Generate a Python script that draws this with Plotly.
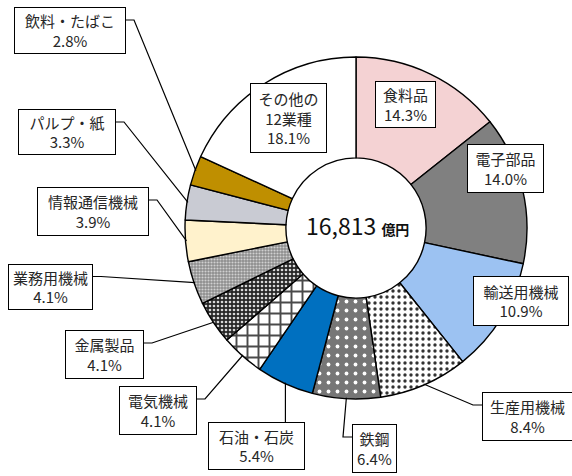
import math
import plotly.graph_objects as go

# Shares of shipment value by industry (%), clockwise from 12 o'clock
categories = ["食料品", "電子部品", "輸送用機械", "生産用機械", "鉄鋼", "石油・石炭",
              "電気機械", "金属製品", "業務用機械", "情報通信機械", "パルプ・紙",
              "飲料・たばこ", "その他の12業種"]
shares = [14.3, 14.0, 10.9, 8.4, 6.4, 5.4, 4.1, 4.1, 4.1, 3.9, 3.3, 2.8, 18.1]
box_labels = ["食料品", "電子部品", "輸送用機械", "生産用機械", "鉄鋼", "石油・石炭",
              "電気機械", "金属製品", "業務用機械", "情報通信機械", "パルプ・紙",
              "飲料・たばこ", "その他の<br>12業種"]
total_text = "16,813"
total_unit = "億円"

W, H = 572, 476
CX, CY, R = 356, 228, 171  # pie centre and radius in pixels

fill = ["#F4D2D3", "#808080", "#9CC2F2", "#FFFFFF", "#767676", "#0070C0",
        "#FFFFFF", "#262626", "#8E8E8E", "#FFF2CC", "#C9CBD3", "#BF8F00", "#FFFFFF"]
pat_shape = ["", "", "", ".", ".", "", "+", ".", ".", "", "", "", ""]
pat_fg = ["#000", "#000", "#000", "#333333", "#FFFFFF", "#000", "#4A4A4A",
          "#D8D8D8", "#D0D0D0", "#000", "#000", "#000", "#000"]
pat_size = [8, 8, 8, 6, 9, 8, 11, 4, 3, 8, 8, 8, 8]
pat_solid = [0.3, 0.3, 0.3, 0.25, 0.14, 0.3, 0.32, 0.35, 0.4, 0.3, 0.3, 0.3, 0.3]

# label box layout: centre (px), size (px), font size, leader style
boxes = {
    "食料品": ((405.5, 104.5), (61, 47), 15, None),
    "電子部品": ((505.5, 168.5), (77, 49), 15, None),
    "輸送用機械": ((521, 301), (96, 50), 15, None),
    "生産用機械": ((527.5, 416.5), (91, 49), 15, "left"),
    "鉄鋼": ((374.5, 448.5), (45, 49), 15, "left"),
    "石油・石炭": ((256.5, 446), (97, 48), 15, "up"),
    "電気機械": ((158, 410.5), (78, 49), 15, "right"),
    "金属製品": ((104.5, 354.5), (79, 49), 15, "right"),
    "業務用機械": ((50.5, 286.5), (85, 46), 15, "right"),
    "情報通信機械": ((93, 211.5), (112, 49), 15, "right"),
    "パルプ・紙": ((67, 132), (98, 46), 15, "right"),
    "飲料・たばこ": ((70, 30.5), (112, 47), 15, "right"),
    "その他の12業種": ((288.5, 118), (77, 70), 15, None),
}


def px(x):
    return x / W


def py(y):
    return 1 - y / H


fig = go.Figure(go.Pie(
    labels=categories,
    values=shares,
    sort=False,
    direction="clockwise",
    rotation=0,
    hole=0.41,
    textinfo="none",
    hoverinfo="label+percent",
    showlegend=False,
    marker=dict(
        colors=fill,
        line=dict(color="#000000", width=1.4),
        pattern=dict(shape=pat_shape, fgcolor=pat_fg, bgcolor=fill,
                     size=pat_size, solidity=pat_solid, fillmode="replace"),
    ),
    domain=dict(x=[px(CX - R), px(CX + R)], y=[py(CY + R), py(CY - R)]),
))

annotations = []
shapes = []
total = sum(shares)
cum = 0.0
for name, val, text in zip(categories, shares, box_labels):
    mid = (cum + val / 2) / total * 2 * math.pi
    cum += val
    (bx, by), (bw, bh), fs, leader = boxes[name]
    annotations.append(dict(
        x=px(bx), y=py(by), xref="paper", yref="paper",
        xanchor="center", yanchor="middle", showarrow=False,
        text=f"{text}<br>{val:.1f}%", align="center", valign="middle",
        width=bw - 2, height=bh - 2, borderpad=0,
        bgcolor="#FFFFFF", bordercolor="#000000", borderwidth=1,
        font=dict(family="Noto Sans CJK JP", size=fs, color="#262626"),
    ))
    if leader is None:
        continue
    ax = CX + (R - 1) * math.sin(mid)
    ay = CY - (R - 1) * math.cos(mid)
    top = by - bh / 2
    if leader == "right":
        sx, sy = bx + bw / 2, top + 13
        pts = [(sx, sy), (sx + 8, sy), (ax, ay)]
    elif leader == "left":
        sx, sy = bx - bw / 2, top + 13
        pts = [(sx, sy), (sx - 9, sy), (ax, ay)]
    else:
        pts = [(ax, top), (ax, ay)]
    path = "M " + " L ".join(f"{px(x):.5f},{py(y):.5f}" for x, y in pts)
    shapes.append(dict(type="path", path=path, xref="paper", yref="paper",
                       line=dict(color="#000000", width=1.2)))

annotations.append(dict(
    x=px(CX + 1), y=py(CY - 3), xref="paper", yref="paper",
    xanchor="center", yanchor="middle", showarrow=False,
    text=f"{total_text} <span style='font-size:14px'><b>{total_unit}</b></span>",
    font=dict(family="Liberation Sans Narrow, Noto Sans CJK JP", size=23, color="#111111"),
))

fig.update_layout(
    width=W, height=H,
    margin=dict(l=0, r=0, t=0, b=0),
    paper_bgcolor="#FFFFFF",
    plot_bgcolor="#FFFFFF",
    annotations=annotations,
    shapes=shapes,
)

fig.write_html("out.html")
